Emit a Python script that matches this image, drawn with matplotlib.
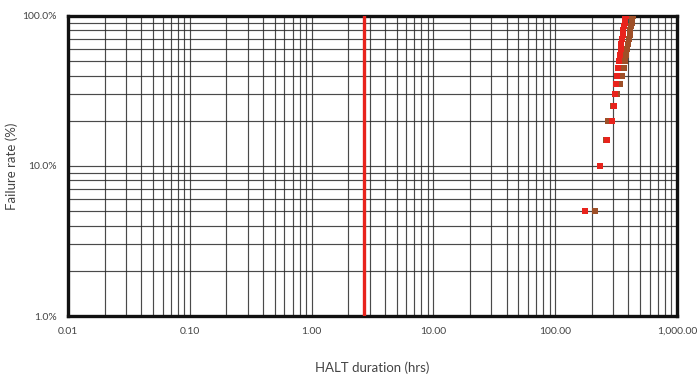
import matplotlib
matplotlib.use("Agg")
import matplotlib.pyplot as plt
from matplotlib.ticker import FuncFormatter, LogLocator, NullFormatter

# failure rate steps (%)
failure_rate = [5, 10, 15, 20, 25, 30, 35, 40, 45, 50,
                55, 60, 65, 70, 75, 80, 85, 90, 95, 100]

# HALT duration (hrs) for the two series
hours_red = [176, 234, 267, 293, 305, 310, 316, 322, 328, 335,
             341, 345, 348, 354, 361, 364, 368, 375, 378, 382]
hours_brown = [213, 234, 262, 272, 298, 322, 341, 354, 368, 375,
               382, 389, 397, 404, 411, 412, 420, 424, 428, 436]

# vertical reference line (hrs)
ref_hours = 2.72

x_range = (0.01, 1000)
y_range = (1, 100)

plt.rcParams['font.family'] = ['Lato', 'DejaVu Sans']

fig = plt.figure(figsize=(7.0, 3.78), dpi=100)
ax = fig.add_axes([0.097, 0.164, 0.870, 0.794])

ax.set_xscale('log')
ax.set_yscale('log')
ax.set_xlim(*x_range)
ax.set_ylim(*y_range)

# grid
ax.xaxis.set_major_locator(LogLocator(base=10))
ax.xaxis.set_minor_locator(LogLocator(base=10, subs=range(2, 10)))
ax.yaxis.set_major_locator(LogLocator(base=10))
ax.yaxis.set_minor_locator(LogLocator(base=10, subs=range(2, 10)))
ax.grid(True, which='both', color='#2a2a2a', linewidth=0.85, alpha=0.85)
ax.set_axisbelow(True)

ax.axvline(ref_hours, color='#e8231c', linewidth=2.4, zorder=3)

ax.plot(hours_brown, failure_rate, 's', color='#9e4f28', markersize=4.8,
        markeredgewidth=0, zorder=4)
ax.plot(hours_red, failure_rate, 's', color='#e8231c', markersize=4.8,
        markeredgewidth=0, zorder=5)

for s in ax.spines.values():
    s.set_linewidth(2.4)
    s.set_color('#111111')

ax.xaxis.set_major_formatter(FuncFormatter(lambda v, p: f"{v:,.2f}"))
ax.yaxis.set_major_formatter(FuncFormatter(lambda v, p: f"{v:.1f}%"))
ax.xaxis.set_minor_formatter(NullFormatter())
ax.yaxis.set_minor_formatter(NullFormatter())
ax.tick_params(which='both', length=0, labelsize=7.5, labelcolor='#444444')
ax.tick_params(axis='x', pad=8)
ax.tick_params(axis='y', pad=8)

ax.set_xlabel("HALT duration (hrs)", fontsize=9.5, color='#444444')
ax.set_ylabel("Failure rate (%)", fontsize=9.5, color='#444444')
ax.xaxis.set_label_coords(0.5, -0.153)
ax.yaxis.set_label_coords(-0.082, 0.5)

fig.savefig("out.png", dpi=100)
